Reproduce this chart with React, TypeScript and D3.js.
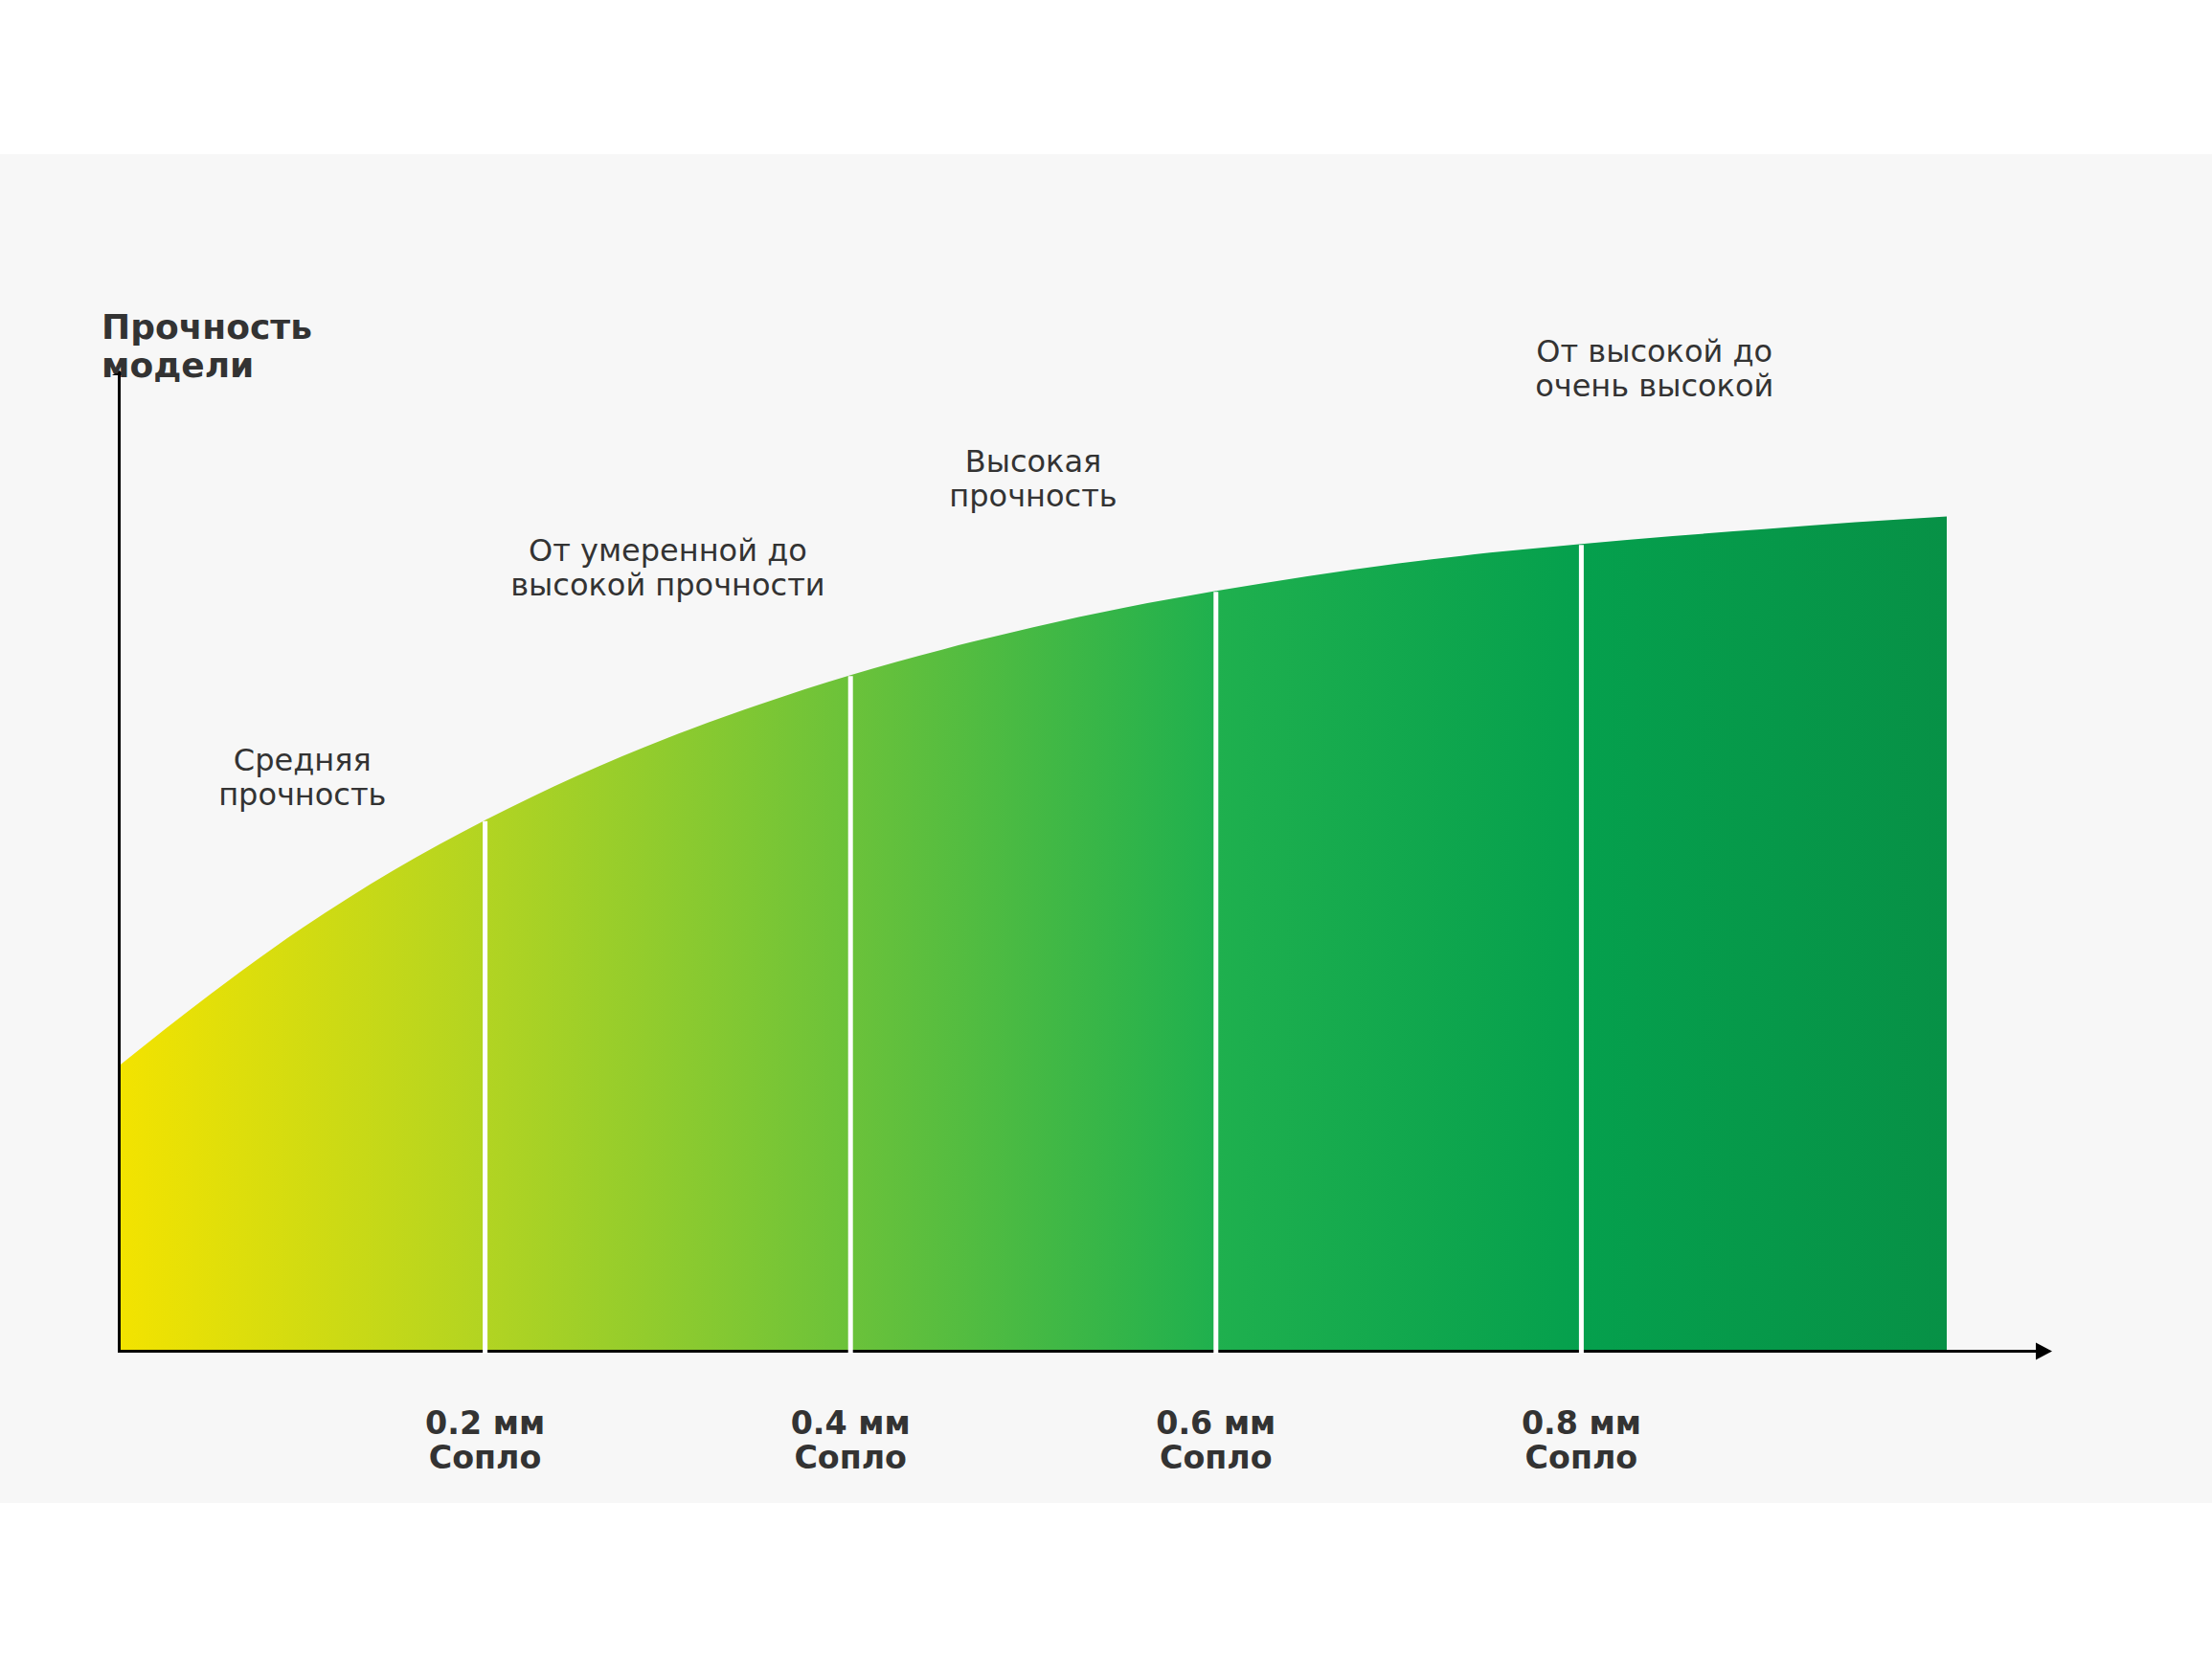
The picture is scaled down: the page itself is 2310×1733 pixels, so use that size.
import React, { useEffect, useRef } from 'react';
import * as d3 from 'd3';

// nozzle diameter position (0..1 of the axis) and model strength
const nozzlePos = [0, 0.05, 0.1, 0.15, 0.2, 0.25, 0.3, 0.35, 0.4, 0.45, 0.5, 0.55, 0.6, 0.65, 0.7, 0.75, 0.8, 0.85, 0.9, 0.95, 1.0];
const strength = [29.2, 36.5, 43.2, 49.1, 54.2, 58.7, 62.6, 66.0, 69.0, 71.6, 73.9, 75.9, 77.6, 79.1, 80.4, 81.5, 82.4, 83.2, 83.9, 84.6, 85.2];

const tickValues = [0.2, 0.4, 0.6, 0.8];
const tickLabels = ['0.2 мм', '0.4 мм', '0.6 мм', '0.8 мм'];
const tickSubLabel = 'Сопло';

const zoneLabels = [
  ['Средняя', 'прочность'],
  ['От умеренной до', 'высокой прочности'],
  ['Высокая', 'прочность'],
  ['От высокой до', 'очень высокой'],
];
const zoneX = [0.1, 0.3, 0.5, 0.84];
const zoneY = [58.5, 79.9, 89.0, 100.2];

const gradientOffsets = [0, 0.2, 0.4, 0.6, 0.8, 1];
const gradientColors = ['#f3e300', '#b2d422', '#6bc23a', '#1fb04e', '#05a04d', '#079146'];

const yTitle = ['Прочность', 'модели'];

const W = 2310;
const H = 1733;

const App: React.FC = () => {
  const svgRef = useRef<SVGSVGElement>(null);

  useEffect(() => {
    const svg = d3.select(svgRef.current);
    svg.selectAll('*').remove();

    const x = d3.scaleLinear().domain([0, 1]).range([125, 2033]);
    const y = d3.scaleLinear().domain([0, 100]).range([1411.5, 388]);
    const font = '"DejaVu Sans", Verdana, sans-serif';
    const textColor = '#333333';

    // backgrounds
    svg.append('rect').attr('width', W).attr('height', H).attr('fill', '#ffffff');
    svg.append('rect').attr('x', 0).attr('y', 161).attr('width', W).attr('height', 1409).attr('fill', '#f7f7f7');

    // gradient
    const grad = svg.append('defs').append('linearGradient')
      .attr('id', 'strengthGrad')
      .attr('gradientUnits', 'userSpaceOnUse')
      .attr('x1', x(0)).attr('x2', x(1)).attr('y1', 0).attr('y2', 0);
    gradientOffsets.forEach((o, i) => {
      grad.append('stop').attr('offset', o).attr('stop-color', gradientColors[i]);
    });

    const data = nozzlePos.map((p, i) => ({ p, v: strength[i] }));

    const area = d3.area<{ p: number; v: number }>()
      .x(d => x(d.p))
      .y0(y(0))
      .y1(d => y(d.v))
      .curve(d3.curveMonotoneX);

    svg.append('path')
      .datum(data)
      .attr('d', area)
      .attr('fill', 'url(#strengthGrad)');

    // axes
    svg.append('line')
      .attr('x1', 124.5).attr('x2', 124.5)
      .attr('y1', y(0) + 1.5).attr('y2', y(100))
      .attr('stroke', '#000').attr('stroke-width', 3);
    svg.append('path')
      .attr('d', `M117,${y(100) + 4} L132,${y(100) + 4} L124.5,${y(100) - 1} Z`)
      .attr('fill', '#000');

    const axisEnd = 2126;
    svg.append('line')
      .attr('x1', 123).attr('x2', axisEnd)
      .attr('y1', y(0)).attr('y2', y(0))
      .attr('stroke', '#000').attr('stroke-width', 3);
    svg.append('path')
      .attr('d', `M${axisEnd},${y(0) - 9} L${axisEnd + 17},${y(0)} L${axisEnd},${y(0) + 9} Z`)
      .attr('fill', '#000');

    // white separators at each nozzle size
    const curveAt = (p: number) => {
      const i = nozzlePos.findIndex(v => Math.abs(v - p) < 1e-9);
      return strength[i];
    };
    svg.selectAll('.sep')
      .data(tickValues)
      .enter().append('line')
      .attr('class', 'sep')
      .attr('x1', d => x(d)).attr('x2', d => x(d))
      .attr('y1', y(0) + 2.5)
      .attr('y2', d => y(curveAt(d)) + 1)
      .attr('stroke', '#ffffff')
      .attr('stroke-width', 5);

    // tick labels
    const ticks = svg.selectAll('.tick')
      .data(tickValues)
      .enter().append('g')
      .attr('class', 'tick')
      .attr('transform', d => `translate(${x(d)},0)`);
    ticks.append('text')
      .attr('y', 1498)
      .attr('text-anchor', 'middle')
      .attr('font-family', font).attr('font-weight', 'bold').attr('font-size', 33.3)
      .attr('fill', textColor)
      .text((_d, i) => tickLabels[i]);
    ticks.append('text')
      .attr('y', 1534)
      .attr('text-anchor', 'middle')
      .attr('font-family', font).attr('font-weight', 'bold').attr('font-size', 33.3)
      .attr('fill', textColor)
      .text(tickSubLabel);

    // zone annotations
    zoneLabels.forEach((lines, i) => {
      const cy = y(zoneY[i]);
      const t = svg.append('text')
        .attr('text-anchor', 'middle')
        .attr('font-family', font).attr('font-size', 32)
        .attr('fill', textColor);
      lines.forEach((line, j) => {
        t.append('tspan')
          .attr('x', x(zoneX[i]))
          .attr('y', cy - 7.5 + j * 36)
          .text(line);
      });
    });

    // y title
    const title = svg.append('text')
      .attr('font-family', font).attr('font-weight', 'bold').attr('font-size', 36)
      .attr('fill', textColor);
    yTitle.forEach((line, j) => {
      title.append('tspan').attr('x', 106).attr('y', 354 + j * 40).text(line);
    });
  }, []);

  return (
    <div style={{ position: 'absolute', left: 0, top: 0, width: W, height: H }}>
      <svg ref={svgRef} width={W} height={H}></svg>
    </div>
  );
};

export default App;
